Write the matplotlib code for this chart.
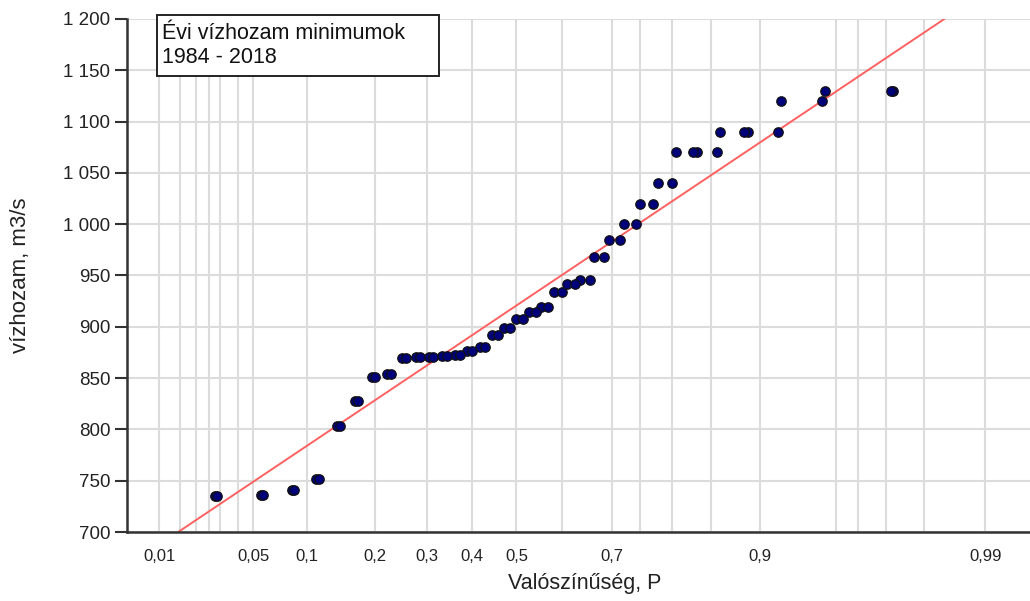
from statistics import NormalDist
import numpy as np
import matplotlib.pyplot as plt
from matplotlib.patches import Rectangle
from matplotlib.ticker import FuncFormatter

# Évi minimum vízhozamok 1984-2018 (m3/s), növekvő sorrendben
q_min = [735, 736, 741, 752, 803, 828, 851, 854, 870, 871, 871, 872, 873, 876, 880,
         892, 899, 908, 914, 919, 934, 942, 946, 968, 985, 1000, 1020, 1040, 1070, 1070,
         1090, 1090, 1120, 1130, 1130]

# tapasztalati valószínűség i/(n+1)
p_weibull = [0.0278, 0.0556, 0.0833, 0.1111, 0.1389, 0.1667, 0.1944, 0.2222, 0.2500,
             0.2778, 0.3056, 0.3333, 0.3611, 0.3889, 0.4167, 0.4444, 0.4722, 0.5000,
             0.5278, 0.5556, 0.5833, 0.6111, 0.6389, 0.6667, 0.6944, 0.7222, 0.7500,
             0.7778, 0.8056, 0.8333, 0.8611, 0.8889, 0.9167, 0.9444, 0.9722]
# tapasztalati valószínűség i/n (az utolsó, 1.0, nem fér a skálára)
p_ian = [0.0286, 0.0571, 0.0857, 0.1143, 0.1429, 0.1714, 0.2000, 0.2286, 0.2571,
         0.2857, 0.3143, 0.3429, 0.3714, 0.4000, 0.4286, 0.4571, 0.4857, 0.5143,
         0.5429, 0.5714, 0.6000, 0.6286, 0.6571, 0.6857, 0.7143, 0.7429, 0.7714,
         0.8000, 0.8286, 0.8571, 0.8857, 0.9143, 0.9429, 0.9714]
q_ian = q_min[:len(p_ian)]

# illesztett eloszlás egyenese
fit_p = [0.0145, 0.984]
fit_q = [700, 1200]

p_major = [0.01, 0.05, 0.1, 0.2, 0.3, 0.4, 0.5, 0.7, 0.9, 0.99]
p_minor = [0.015, 0.02, 0.025, 0.03, 0.04, 0.6, 0.75, 0.8, 0.85, 0.95, 0.96, 0.97, 0.98]
q_ticks = [700, 750, 800, 850, 900, 950, 1000, 1050, 1100, 1150, 1200]

skew = 0.35  # ferdeség a valószínűségi papírhoz (Pearson III, Wilson-Hilferty)
nd = NormalDist()
_ppf = np.vectorize(nd.inv_cdf, otypes=[float])
_cdf = np.vectorize(nd.cdf, otypes=[float])


def p_to_k(p):
    p = np.clip(np.asarray(p, dtype=float), 1e-9, 1 - 1e-9)
    z = _ppf(p)
    return (2 / skew) * ((1 + skew * z / 6 - skew ** 2 / 36) ** 3 - 1)


def k_to_p(k):
    k = np.asarray(k, dtype=float)
    z = (6 / skew) * (np.cbrt(skew * k / 2 + 1) - 1) + skew / 6
    return _cdf(z)


plt.rcParams['font.family'] = ['Liberation Sans', 'DejaVu Sans']

fig = plt.figure(figsize=(10.30, 6.01), dpi=100)
ax = fig.add_axes([0.1232, 0.1148, 0.8894, 0.8536])
ax.set_xscale('function', functions=(p_to_k, k_to_p))
ax.set_xlim(0.005, 0.995)
ax.set_ylim(700, 1200)

ax.plot(fit_p, fit_q, color='#ff6161', lw=1.4, zorder=2)
ax.plot(p_weibull, q_min, 'o', ms=6.8, mfc='#00007a', mec='#111111', mew=0.9, zorder=3)
ax.plot(p_ian, q_ian, 'o', ms=6.8, mfc='#00007a', mec='#111111', mew=0.9, zorder=3)

ax.set_xticks(p_major)
ax.set_xticklabels([f"{p:g}".replace('.', ',') for p in p_major])
ax.set_xticks(p_minor, minor=True)
ax.set_yticks(q_ticks)
ax.yaxis.set_major_formatter(FuncFormatter(lambda v, _: f"{v:,.0f}".replace(',', ' ')))

ax.grid(True, which='both', axis='x', color='#dcdcdc', lw=1.5)
ax.grid(True, which='major', axis='y', color='#dcdcdc', lw=1.5)
ax.set_axisbelow(True)

for s in ['top', 'right']:
    ax.spines[s].set_visible(False)
for s in ['left', 'bottom']:
    ax.spines[s].set_color('#333333')
    ax.spines[s].set_linewidth(1.8)

ax.tick_params(axis='x', which='both', length=0, pad=12, labelsize=12, labelcolor='#222222')
ax.tick_params(axis='y', length=9, width=1.5, color='#333333', pad=3,
               labelsize=13.5, labelcolor='#222222')

ax.set_xlabel('Valószínűség, P', fontsize=15.5, color='#222222')
ax.xaxis.set_label_coords(0.5, -0.08)
ax.set_ylabel('vízhozam, m3/s', fontsize=16, color='#222222')
ax.yaxis.set_label_coords(-0.105, 0.5)

fig.add_artist(Rectangle((0.1524, 0.8735), 0.2738, 0.1015, transform=fig.transFigure,
                         fc='white', ec='#222222', lw=1.4))
fig.text(0.1573, 0.9243, 'Évi vízhozam minimumok\n1984 - 2018', fontsize=15.5,
         va='center', ha='left', linespacing=1.15, color='#111111')

plt.savefig('out.png', dpi=100)
